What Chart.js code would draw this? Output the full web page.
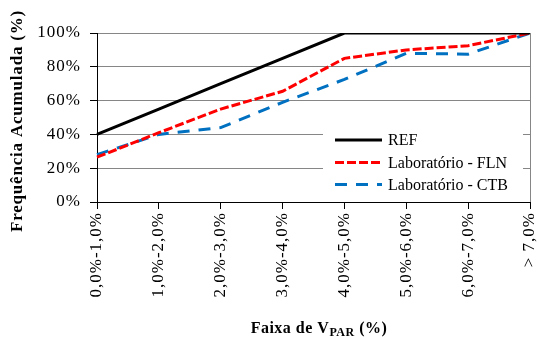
<!DOCTYPE html>
<html>
<head>
<meta charset="utf-8">
<script src="https://cdn.jsdelivr.net/npm/chart.js@4/dist/chart.umd.min.js"></script>
<style>
html,body{margin:0;padding:0;background:#fff;}
#wrap{width:539px;height:337px;position:relative;}
</style>
</head>
<body>
<div id="wrap"><canvas id="c" width="539" height="337"></canvas></div>
<script>
const categories = ["0,0%-1,0%","1,0%-2,0%","2,0%-3,0%","3,0%-4,0%","4,0%-5,0%","5,0%-6,0%","6,0%-7,0%","> 7,0%"];
const refValues = [40,55,70,85,100,100,100,100];
const flnValues = [26.5,41,55,65.5,85,90,92.5,100];
const ctbValues = [28,40,44,59,72.5,88,87.5,100];
const seriesNames = ["REF","Laboratório - FLN","Laboratório - CTB"];
const yTicks = [0,20,40,60,80,100];

const FONT = "'Liberation Serif','Times New Roman',serif";
const colors = ["#000000","#FF0000","#0070C0"];
const dashes = [[],[9,3],[12,9]];

const spacingPlugin = {
  id: 'spacing',
  beforeDraw(chart) { chart.ctx.letterSpacing = '1px'; },
  beforeDatasetsDraw(chart) { chart.ctx.letterSpacing = '0px'; }
};

const legendPlugin = {
  id: 'customLegend',
  afterDatasetsDraw(chart) {
    const ctx = chart.ctx;
    const x0 = 323, y0 = 128, w = 200, h = 72;
    ctx.save();
    ctx.letterSpacing = '0px';
    ctx.fillStyle = '#fff';
    ctx.fillRect(x0, y0, w, h);
    const rows = [140, 162.5, 184.5];
    chart.data.datasets.forEach((ds, i) => {
      ctx.beginPath();
      ctx.strokeStyle = ds.borderColor;
      ctx.lineWidth = ds.borderWidth;
      ctx.setLineDash(ds.borderDash || []);
      ctx.moveTo(335, rows[i]);
      ctx.lineTo(382, rows[i]);
      ctx.stroke();
      ctx.setLineDash([]);
      ctx.fillStyle = '#000';
      ctx.font = "16px " + FONT;
      ctx.textBaseline = 'middle';
      ctx.textAlign = 'left';
      ctx.fillText(ds.label, 388, rows[i] + 1);
    });
    ctx.restore();
  }
};

const titlePlugin = {
  id: 'axisTitles',
  afterDraw(chart) {
    const ctx = chart.ctx;
    ctx.save();
    ctx.fillStyle = '#000';
    ctx.letterSpacing = '0.5px';
    const big = "bold 16px " + FONT;
    const small = "bold 12px " + FONT;
    const p1 = "Faixa de V", p2 = "PAR", p3 = " (%)";
    ctx.font = big; const w1 = ctx.measureText(p1).width; const w3 = ctx.measureText(p3).width;
    ctx.font = small; const w2 = ctx.measureText(p2).width;
    const total = w1 + w2 + w3;
    let x = 319 - total / 2;
    const base = 333;
    ctx.textBaseline = 'alphabetic';
    ctx.textAlign = 'left';
    ctx.font = big; ctx.fillText(p1, x, base); x += w1;
    ctx.font = small; ctx.fillText(p2, x, base + 3); x += w2;
    ctx.font = big; ctx.fillText(p3, x, base);
    ctx.letterSpacing = '0.8px';
    ctx.translate(18, 121);
    ctx.rotate(-Math.PI / 2);
    ctx.font = "bold 17px " + FONT;
    ctx.textAlign = 'center';
    ctx.textBaseline = 'middle';
    ctx.fillText("Frequência Acumulada (%)", 0, 0);
    ctx.restore();
  }
};

new Chart(document.getElementById('c'), {
  type: 'line',
  data: {
    labels: categories,
    datasets: [refValues, flnValues, ctbValues].map((vals, i) => ({
      label: seriesNames[i],
      data: vals,
      borderColor: colors[i],
      backgroundColor: colors[i],
      borderWidth: 3,
      borderDash: dashes[i],
      pointRadius: 0,
      tension: 0,
      fill: false
    }))
  },
  options: {
    responsive: false,
    animation: false,
    devicePixelRatio: 1,
    layout: { padding: { top: 33, right: 9, left: 0, bottom: 0 } },
    plugins: {
      legend: { display: false },
      tooltip: { enabled: false },
      title: { display: false }
    },
    scales: {
      x: {
        offset: false,
        afterFit(scale) { scale.height = 135; scale.paddingLeft = 0; scale.paddingRight = 0; },
        grid: {
          drawOnChartArea: true,
          color: (c) => (c.index === categories.length - 1 ? '#868686' : 'rgba(0,0,0,0)'),
          tickColor: '#000',
          tickLength: 7,
          lineWidth: 1
        },
        border: { color: '#000', width: 1 },
        ticks: {
          autoSkip: false,
          maxRotation: 90,
          minRotation: 90,
          padding: 3,
          color: '#000',
          font: { family: FONT, size: 17 }
        }
      },
      y: {
        min: 0,
        max: 100,
        afterFit(scale) { scale.width = 97; scale.paddingTop = 0; scale.paddingBottom = 0; },
        afterBuildTicks(scale) { scale.ticks = yTicks.map(v => ({ value: v })); },
        grid: {
          color: '#868686',
          tickColor: '#000',
          tickLength: 7,
          lineWidth: 1
        },
        border: { color: '#000', width: 1 },
        ticks: {
          padding: 9,
          color: '#000',
          font: { family: FONT, size: 17 },
          callback: (v) => v + '%'
        }
      }
    }
  },
  plugins: [spacingPlugin, legendPlugin, titlePlugin]
});
</script>
</body>
</html>
